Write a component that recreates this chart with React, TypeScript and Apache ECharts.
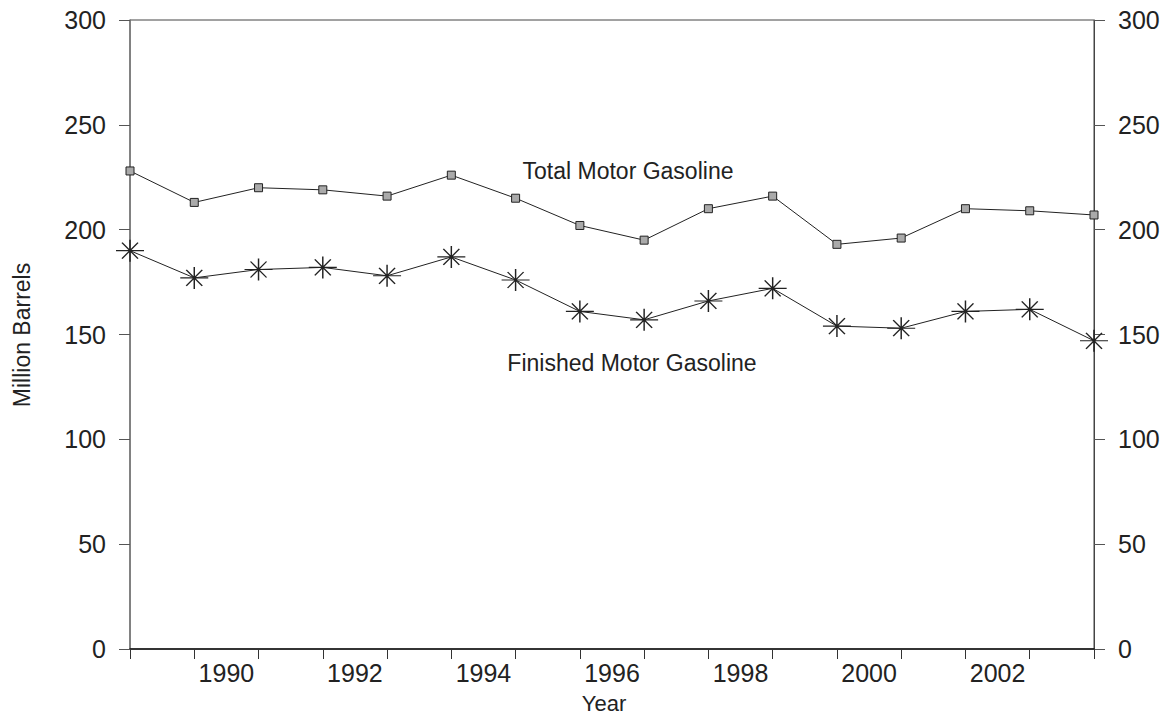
import React, { useEffect, useRef } from "react";
import * as echarts from "echarts";

// Data points: one per year
const pointYears = ["1988","1989","1990","1991","1992","1993","1994","1995","1996","1997","1998","1999","2000","2001","2002","2003"];
const totalMotorGasoline = [228, 213, 220, 219, 216, 226, 215, 202, 195, 210, 216, 193, 196, 210, 209, 207];
const finishedMotorGasoline = [190, 177, 181, 182, 178, 187, 176, 161, 157, 166, 172, 154, 153, 161, 162, 147];
// Label axis: one category per interval between points
const intervalLabels = ["", "1990", "", "1992", "", "1994", "", "1996", "", "1998", "", "2000", "", "2002", ""];
const yTicks = { min: 0, max: 300, interval: 50 };

const FONT = "Liberation Sans, Arial, sans-serif";
const INK = "#222";

const asterisk = "path://M14 0 L14 22 M0 11 L28 11 M6 3 L22 19 M6 19 L22 3";

export default function App() {
  const ref = useRef<HTMLDivElement>(null);
  useEffect(() => {
    if (!ref.current) return;
    const chart = echarts.init(ref.current, null, { renderer: "svg" });
    const yAxisCommon = {
      type: "value",
      min: yTicks.min,
      max: yTicks.max,
      interval: yTicks.interval,
      splitLine: { show: false },
      axisTick: { show: true, length: 11, lineStyle: { color: "#555", width: 1 } },
      axisLabel: { fontFamily: FONT, fontSize: 25, color: INK, margin: 24 },
    };
    chart.setOption({
      animation: false,
      backgroundColor: "#fff",
      grid: { left: 130, right: 76, top: 20, bottom: 68, show: true, borderColor: "#444", borderWidth: 1 },
      xAxis: [
        {
          type: "category",
          data: intervalLabels,
          boundaryGap: true,
          position: "bottom",
          axisLine: { show: true, lineStyle: { color: "#111", width: 1.5 } },
          axisTick: { show: true, interval: 0, length: 10, lineStyle: { color: "#333", width: 1 } },
          axisLabel: { interval: 0, fontFamily: FONT, fontSize: 25, color: INK, margin: 11 },
        },
        {
          type: "category",
          data: pointYears,
          boundaryGap: false,
          show: false,
        },
      ],
      yAxis: [
        { ...yAxisCommon, position: "left", axisLine: { show: true, lineStyle: { color: "#777", width: 1.5 } } },
        { ...yAxisCommon, position: "right", axisLine: { show: true, lineStyle: { color: "#444", width: 1 } } },
      ],
      series: [
        {
          name: "Total Motor Gasoline",
          type: "line",
          xAxisIndex: 1,
          yAxisIndex: 0,
          data: totalMotorGasoline,
          symbol: "rect",
          symbolSize: 8,
          showAllSymbol: true,
          lineStyle: { color: INK, width: 1 },
          itemStyle: { color: "#aaa", borderColor: "#222", borderWidth: 1 },
        },
        {
          name: "Finished Motor Gasoline",
          type: "line",
          xAxisIndex: 1,
          yAxisIndex: 0,
          data: finishedMotorGasoline,
          symbol: asterisk,
          symbolSize: [28, 22],
          showAllSymbol: true,
          lineStyle: { color: INK, width: 1 },
          itemStyle: { color: "none", borderColor: "#222", borderWidth: 1.3 },
        },
      ],
      graphic: [
        {
          type: "text",
          x: 628,
          y: 171,
          style: { text: "Total Motor Gasoline", fontFamily: FONT, fontSize: 23, fill: INK, textAlign: "center", textVerticalAlign: "middle" },
        },
        {
          type: "text",
          x: 632,
          y: 363,
          style: { text: "Finished Motor Gasoline", fontFamily: FONT, fontSize: 23, fill: INK, textAlign: "center", textVerticalAlign: "middle" },
        },
        {
          type: "text",
          x: 604,
          y: 703,
          style: { text: "Year", fontFamily: FONT, fontSize: 22, fill: INK, textAlign: "center", textVerticalAlign: "middle" },
        },
        {
          type: "text",
          x: 22,
          y: 335,
          rotation: Math.PI / 2,
          style: { text: "Million Barrels", fontFamily: FONT, fontSize: 23, fill: INK, textAlign: "center", textVerticalAlign: "middle" },
        },
      ],
    });
    return () => chart.dispose();
  }, []);
  return <div ref={ref} style={{ position: "absolute", left: 0, top: 0, width: 1170, height: 717 }} />;
}
